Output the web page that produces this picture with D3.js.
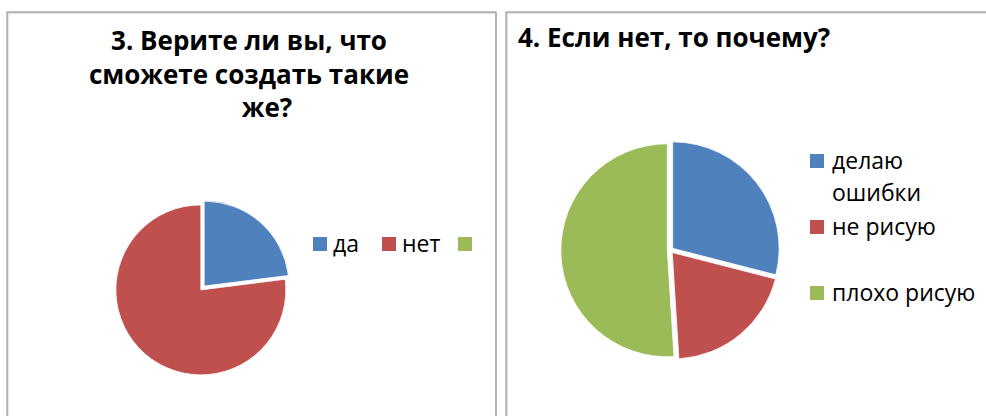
<!DOCTYPE html>
<html>
<head>
<meta charset="utf-8">
<script src="https://cdn.jsdelivr.net/npm/d3@7"></script>
<style>
  body { margin: 0; background: #fff; }
  svg { display: block; font-family: "Open Sans", "Noto Sans", sans-serif; }
</style>
</head>
<body>
<svg id="canvas"></svg>
<script>
// data
const colors = ["#4F81BD", "#C0504D", "#9BBB59"];

const chart1Title = ["3. Верите ли вы, что", "сможете создать такие", "же?"];
const chart1Labels = ["да", "нет", ""];
const chart1Values = [23, 77, 0];

const chart2Title = ["4. Если нет, то почему?"];
const chart2Labels = ["делаю ошибки", "не рисую", "плохо рисую"];
const chart2Values = [29, 20, 51];

const width = 986;
const height = 416;

const svg = d3.select("#canvas")
    .attr("width", width)
    .attr("height", height);

// frames
function frame(x, y, w, h) {
    svg.append("rect")
        .attr("x", x).attr("y", y).attr("width", w).attr("height", h)
        .attr("fill", "none").attr("stroke", "#c8c8c8").attr("stroke-width", 1);
    svg.append("rect")
        .attr("x", x - 1).attr("y", y - 1).attr("width", w + 1).attr("height", h + 1)
        .attr("fill", "none").attr("stroke", "#868686").attr("stroke-width", 1);
}
frame(8, 13, 488, 420);
frame(507, 13, 500, 420);

function drawPie(root, cx, cy, r, values, explode) {
    const pie = d3.pie().sort(null).value(d => d);
    const arc = d3.arc().innerRadius(0).outerRadius(r);
    const g = root.append("g").attr("transform", `translate(${cx}, ${cy})`);
    g.selectAll("path")
        .data(pie(values))
        .join("path")
        .attr("transform", d => {
            const a = (d.startAngle + d.endAngle) / 2;
            return `translate(${explode * Math.sin(a)}, ${-explode * Math.cos(a)})`;
        })
        .attr("d", arc)
        .attr("fill", (d, i) => colors[i])
        .attr("stroke", "#fff")
        .attr("stroke-width", 0.8);
}

// chart 1
const g1 = svg.append("g").classed("chart1", true);
g1.selectAll("text.title")
    .data(chart1Title)
    .join("text")
    .classed("title", true)
    .attr("x", (d, i) => i === 2 ? 267 : 249)
    .attr("y", (d, i) => 50 + i * 33.5)
    .attr("text-anchor", "middle")
    .attr("font-size", 26)
    .attr("font-weight", "bold")
    .text(d => d);

drawPie(g1, 202.5, 288, 85, chart1Values, 2.5);

const legend1X = [313, 382, 458];
const leg1 = g1.selectAll("g.legend")
    .data(chart1Labels)
    .join("g")
    .classed("legend", true)
    .attr("transform", (d, i) => `translate(${legend1X[i]}, 237)`);
leg1.append("rect")
    .attr("width", 14).attr("height", 14)
    .attr("fill", (d, i) => colors[i]);
leg1.append("text")
    .attr("x", 20).attr("y", 15)
    .attr("font-size", 23)
    .text(d => d);

// chart 2
const g2 = svg.append("g").classed("chart2", true);
g2.selectAll("text.title")
    .data(chart2Title)
    .join("text")
    .classed("title", true)
    .attr("x", 518)
    .attr("y", 47)
    .attr("font-size", 26)
    .attr("font-weight", "bold")
    .text(d => d);

drawPie(g2, 670.3, 250.2, 106.5, chart2Values, 3);

const legend2Y = [154, 220, 286];
const leg2 = g2.selectAll("g.legend")
    .data(chart2Labels)
    .join("g")
    .classed("legend", true)
    .attr("transform", (d, i) => `translate(810, ${legend2Y[i]})`);
leg2.append("rect")
    .attr("width", 14).attr("height", 14)
    .attr("fill", (d, i) => colors[i]);
leg2.append("text")
    .attr("x", 22).attr("y", 15)
    .attr("font-size", 23)
    .each(function (d) {
        // wrap words that do not fit the legend width
        const t = d3.select(this);
        const words = d.split(" ");
        let line = [];
        let tspan = t.append("tspan").attr("x", 22).attr("dy", 0);
        words.forEach(w => {
            line.push(w);
            tspan.text(line.join(" "));
            if (tspan.node().getComputedTextLength() > 150 && line.length > 1) {
                line.pop();
                tspan.text(line.join(" "));
                line = [w];
                tspan = t.append("tspan").attr("x", 22).attr("dy", 32).text(w);
            }
        });
    });
</script>
</body>
</html>
